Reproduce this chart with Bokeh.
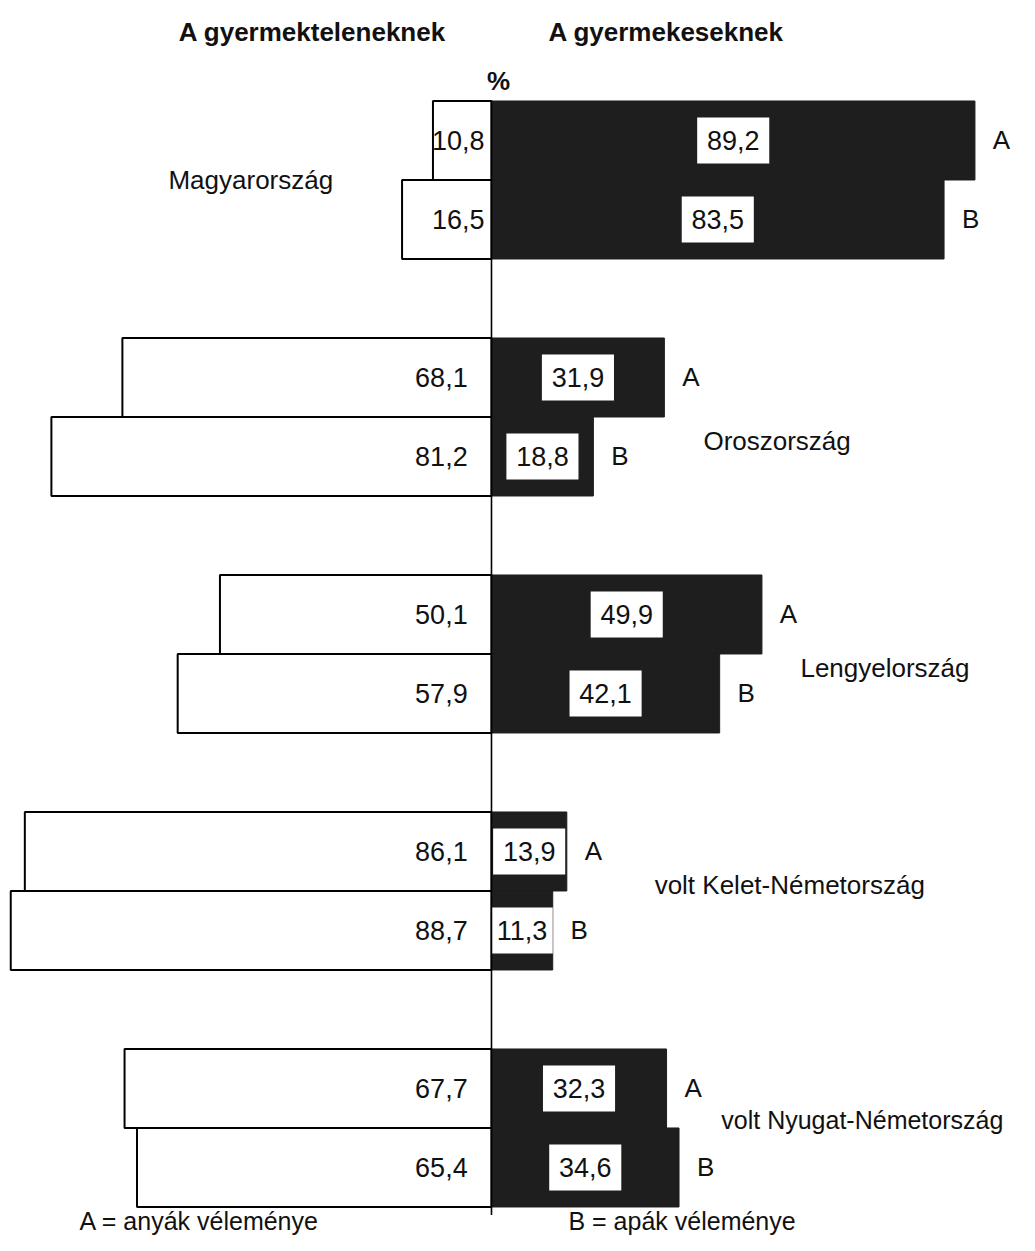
from bokeh.plotting import figure
from bokeh.models import ColumnDataSource, Range1d, Label
from bokeh.core.properties import value
from bokeh.embed import file_html
from bokeh.resources import INLINE

# ---------------- data ----------------
countries = ["Magyarország", "Oroszország", "Lengyelország",
             "volt Kelet-Németország", "volt Nyugat-Németország"]
childless_A = [10.8, 68.1, 50.1, 86.1, 67.7]   # A gyermekteleneknek, anyák
childless_B = [16.5, 81.2, 57.9, 88.7, 65.4]   # A gyermekteleneknek, apák
withkids_A = [89.2, 31.9, 49.9, 13.9, 32.3]    # A gyermekeseknek, anyák
withkids_B = [83.5, 18.8, 42.1, 11.3, 34.6]    # A gyermekeseknek, apák
series_tags = ["A", "B"]

# ---------------- layout (annotation placement) ----------------
name_x = [-59.6, 39.1, 57.0, 30.1, 42.4]      # data units
name_dy = [0.50, 0.81, 0.68, 0.43, 0.40]      # slot offset from A row
name_size = ["26px", "26px", "26px", "26px", "25px"]
FONT = "Liberation Sans"
DARK = "#1e1e1e"

def fmt(v):
    return f"{v:.1f}".replace(".", ",")

rows_y, left_vals, right_vals, tags = [], [], [], []
for i in range(len(countries)):
    for j, (lv, rv) in enumerate([(childless_A[i], withkids_A[i]),
                                   (childless_B[i], withkids_B[i])]):
        rows_y.append(3 * i + j)
        left_vals.append(lv)
        right_vals.append(rv)
        tags.append(series_tags[j])

src = ColumnDataSource(dict(
    y=rows_y,
    lneg=[-v for v in left_vals],
    rv=right_vals,
    rmid=[v / 2 for v in right_vals],
    boxw=[min(13.3, v) for v in right_vals],
    ltxt=[fmt(v) for v in left_vals],
    ltx=[-(1.3 if v < 20 else 4.4) for v in left_vals],
    rtxt=[fmt(v) for v in right_vals],
    tag=tags,
    tagx=[v + 3.3 for v in right_vals],
))

p = figure(width=1019, height=1235, output_backend="svg", toolbar_location=None,
           x_range=Range1d(-90.59, 97.42), y_range=Range1d(13.861, -1.772),
           min_border=0, outline_line_color=None)
p.axis.visible = False
p.grid.visible = False
p.background_fill_color = "white"

# left (childless) bars
p.hbar(y="y", left="lneg", right=0, height=1.0, source=src,
       fill_color="white", line_color="black", line_width=2)
# right (with children) bars
p.hbar(y="y", left=0, right="rv", height=1.0, source=src,
       fill_color=DARK, line_color=DARK, line_width=1)
# white value boxes
p.rect(x="rmid", y="y", width="boxw", height=0.58, source=src,
       fill_color="white", line_color=None)

# centre line
p.segment(x0=[0], y0=[-0.5], x1=[0], y1=[13.6], line_color="black", line_width=1.6)

common = dict(text_font=value(FONT), text_color="#111111", text_baseline="middle")
p.text(x="ltx", y="y", text="ltxt", source=src, text_align="right",
       text_font_size="27px", **common)
p.text(x="rmid", y="y", text="rtxt", source=src, text_align="center",
       text_font_size="27px", **common)
p.text(x="tagx", y="y", text="tag", source=src, text_align="left",
       text_font_size="26px", **common)

name_src = ColumnDataSource(dict(
    x=name_x, y=[3 * i + d for i, d in enumerate(name_dy)], t=countries,
    fs=name_size))
p.text(x="x", y="y", text="t", source=name_src, text_align="left",
       text_font_size="fs", **common)

def lab(x, y, t, bold=False, align="left", size="26px"):
    p.add_layout(Label(x=x, y=y, text=t, text_font=FONT, text_font_size=size,
                       text_font_style="bold" if bold else "normal",
                       text_color="#111111", text_align=align,
                       text_baseline="middle"))

lab(-57.7, -1.37, "A gyermekteleneknek", bold=True)
lab(10.5, -1.37, "A gyermekeseknek", bold=True)
lab(1.3, -0.75, "%", bold=True, align="center")
lab(-76.0, 13.68, "A = anyák véleménye", size="25px")
lab(14.2, 13.68, "B = apák véleménye", size="25px")

open("out.html", "w").write(file_html(p, INLINE))
